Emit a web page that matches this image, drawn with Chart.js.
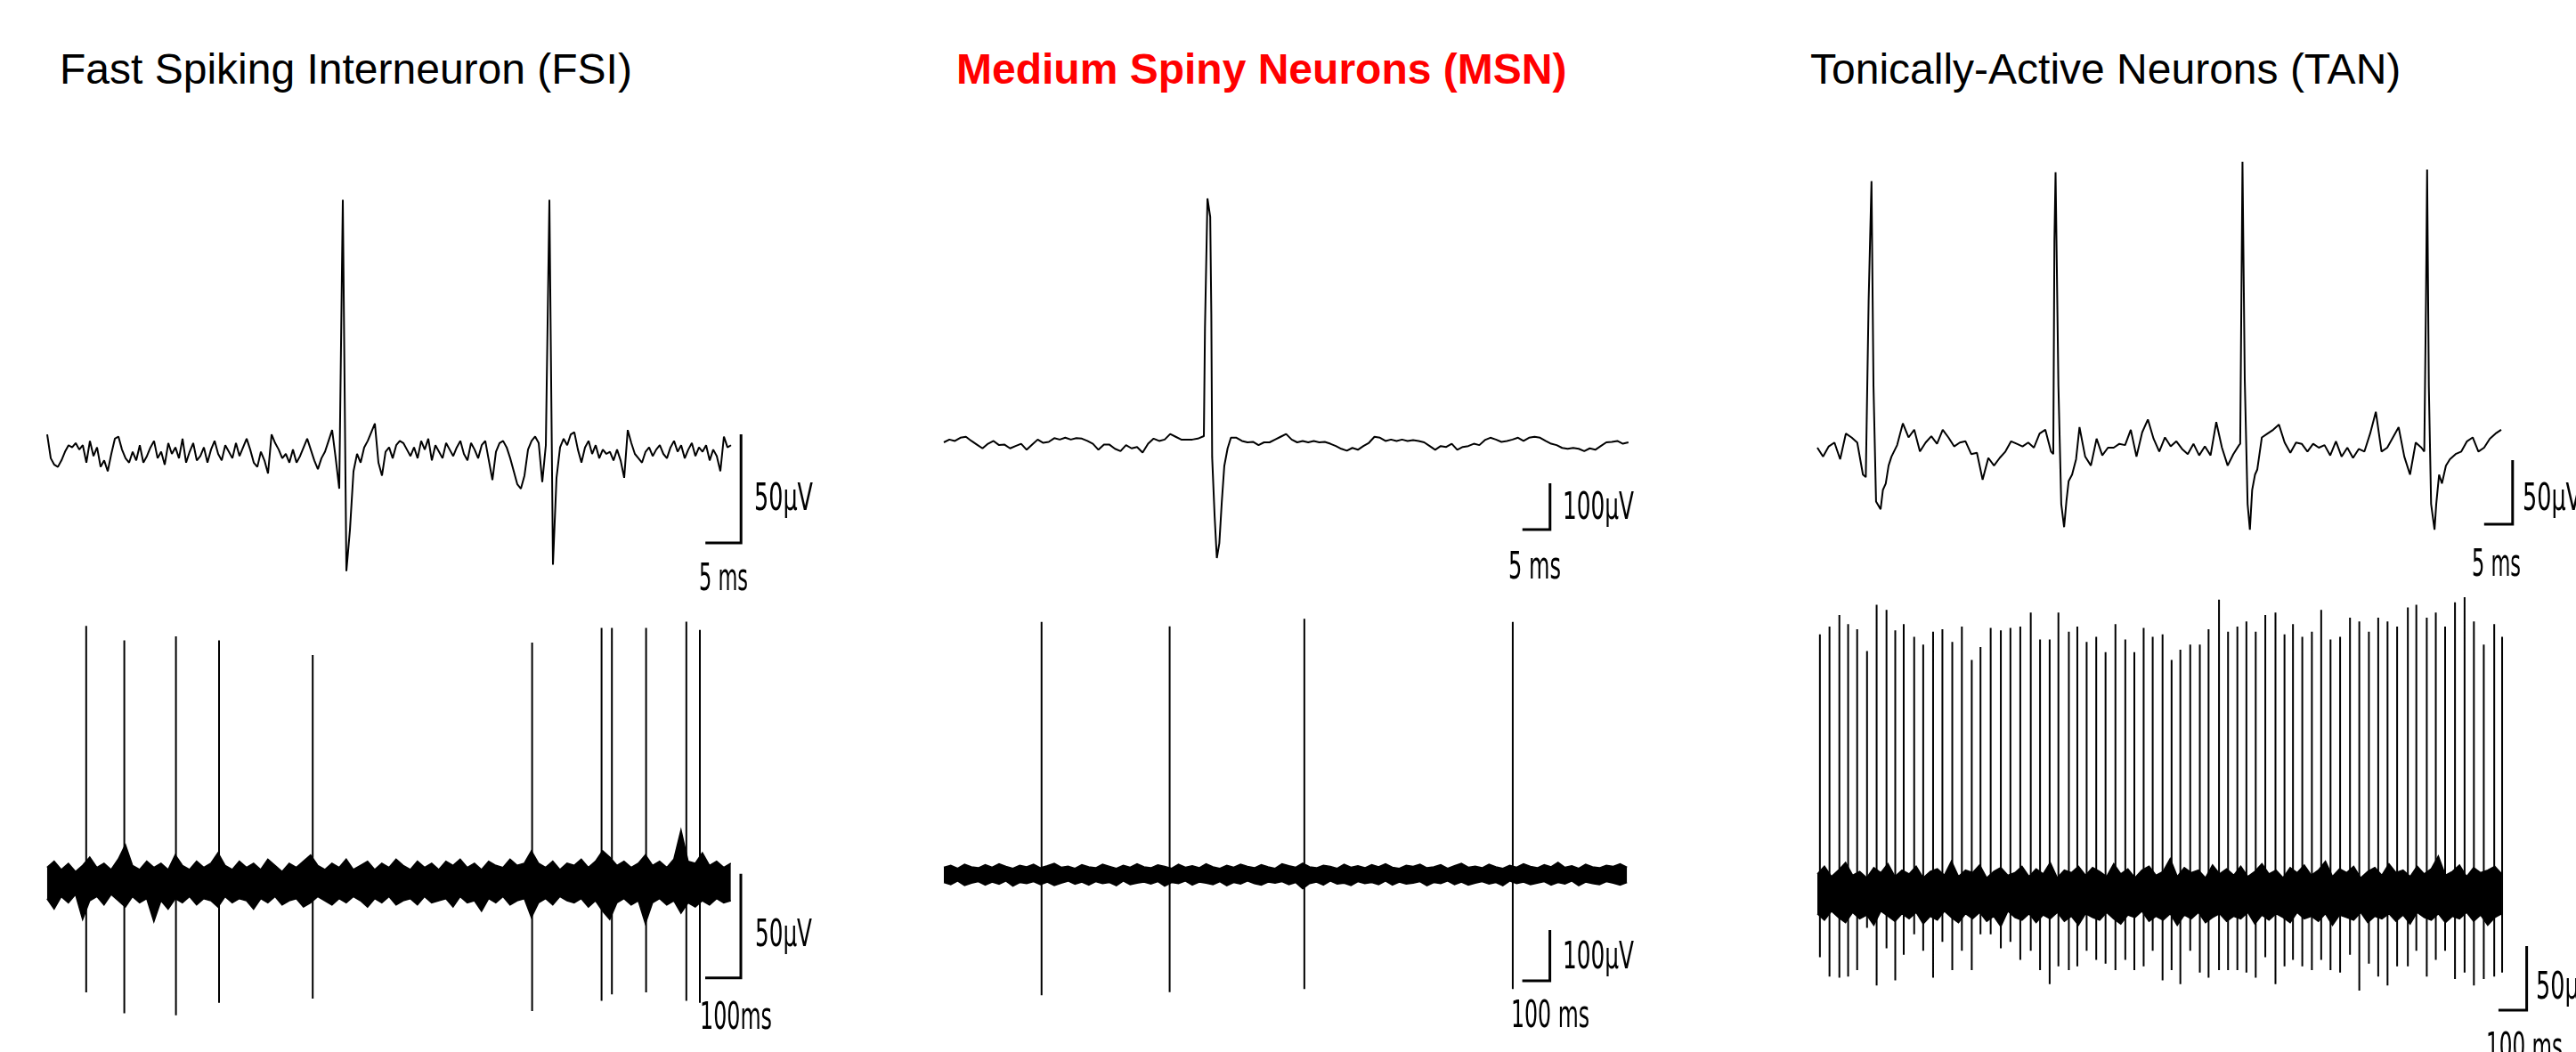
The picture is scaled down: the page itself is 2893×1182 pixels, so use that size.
<!DOCTYPE html>
<html>
<head>
<meta charset="utf-8">
<title>Striatal neuron recordings</title>
<script src="https://cdn.jsdelivr.net/npm/chart.js@4.4.1/dist/chart.umd.min.js"></script>
<style>
  html, body { margin: 0; padding: 0; background: #fff; }
  body { width: 2893px; height: 1182px; position: relative; overflow: hidden; }
  canvas { position: absolute; }
  .title {
    position: absolute; top: 54px;
    font-family: 'Liberation Sans', Arial, sans-serif;
    font-size: 48px; line-height: 48px; white-space: nowrap; color: #000;
  }
  .title.msn { color: #ff0000; font-weight: bold; }
  .bar-label {
    position: absolute;
    font-family: 'Liberation Sans Narrow', 'DejaVu Sans Condensed', 'Liberation Sans', sans-serif;
    font-size: 42px; line-height: 42px; white-space: nowrap; color: #000;
    transform-origin: 0 50%;
  }
</style>
</head>
<body>
<div class="title" style="left:67px">Fast Spiking Interneuron (FSI)</div>
<div class="title msn" style="left:1074px">Medium Spiny Neurons (MSN)</div>
<div class="title" style="left:2033px">Tonically-Active Neurons (TAN)</div>

<canvas id="fsiTop"></canvas>
<canvas id="fsiBot"></canvas>
<canvas id="msnTop"></canvas>
<canvas id="msnBot"></canvas>
<canvas id="tanTop"></canvas>
<canvas id="tanBot"></canvas>

<script>
/* ================================================
   Data – times in ms, voltages in µV
================================================ */

// ---- FSI, single spikes (0.5 ms per sample) ----
const fsiTopDt = 0.5;
const fsiTopTrace = [
  9, -2, -5, -6, -3, 1, 4, 3, 5, 2,
  4, -4, 6, -1, 3, -6, -3, -8, 0, 7,
  8, 2, -2, -4, 1, -3, 4, -4, -1, 3,
  6, -2, 1, -5, 5, 0, 3, -2, 7, -4,
  1, 5, -3, -1, 3, -4, 2, 6, 0, -3,
  4, 1, -2, 5, -1, 3, 7, 2, -4, -6,
  1, -3, -9, 9, 5, 2, -2, 0, -4, 2,
  -4, -1, 3, 7, 2, -3, -7, -2, 1, 6,
  11, -2, -16, 117, -54, -35, -8, 0, -4, 3,
  6, 10, 14, -4, -10, 1, 3, -2, 4, 6,
  5, 2, -1, 3, -2, 6, 2, 7, -3, 4,
  1, -2, 5, 2, -1, 3, 6, 0, -3, 5,
  2, -2, 4, 6, -3, -12, 1, 5, 6, 3,
  -2, -8, -14, -16, -10, 2, 6, 8, 5, -13,
  4, 117, -51, -11, 3, 7, 4, 9, 10, 2,
  -4, 3, 6, 0, 4, -2, 2, 0, 1, -3,
  2, -3, -11, 11, 5, 0, -2, -4, 1, 3,
  -1, 2, 4, 0, -2, 3, 6, 1, 4, -2,
  2, 5, -1, 3, 1, 4, -3, 2, -1, -8,
  8, 3, 4
];

// ---- FSI, spike train (noise band edges every 20 ms) ----
const fsiBotDt = 20;
const fsiBotUpper = [
  7, 10, 6, 9, 5, 8, 12, 7, 9, 6,
  11, 18, 8, 6, 10, 7, 9, 6, 13, 8,
  6, 10, 7, 9, 14, 8, 6, 10, 7, 9,
  6, 11, 8, 5, 9, 7, 10, 13, 8, 6,
  9, 7, 11, 6, 8, 10, 6, 9, 7, 11,
  8, 6, 10, 7, 9, 6, 10, 8, 11, 7,
  9, 6, 10, 8, 7, 11, 8, 9, 15, 9,
  7, 10, 6, 9, 8, 11, 7, 10, 15, 12,
  8, 10, 7, 9, 13, 8, 10, 7, 11, 25,
  10, 9, 14, 8, 10, 7, 9
];
const fsiBotLower = [
  -8, -13, -7, -10, -6, -18, -9, -7, -11, -6,
  -9, -12, -7, -10, -8, -19, -9, -13, -8, -10,
  -7, -11, -8, -9, -12, -7, -10, -8, -9, -13,
  -8, -10, -7, -11, -9, -8, -12, -10, -7, -9,
  -11, -8, -10, -7, -9, -12, -8, -10, -7, -11,
  -9, -8, -11, -7, -10, -9, -8, -12, -7, -10,
  -9, -14, -8, -10, -7, -11, -9, -8, -17, -10,
  -8, -11, -7, -9, -10, -8, -12, -9, -14, -18,
  -10, -8, -11, -9, -20, -10, -8, -11, -9, -15,
  -10, -12, -9, -11, -8, -10, -9
];
const fsiSpikeTimes    = [110, 217, 362, 483, 746, 1362, 1557, 1586, 1682, 1795, 1833];
const fsiSpikePeaks    = [123, 116, 118, 116, 109, 115, 122, 122, 122, 125, 121];
const fsiSpikeTroughs  = [-53, -63, -64, -58, -56, -62, -57, -54, -53, -57, -58];

// ---- MSN, single spike (1 ms per sample, null = spike window) ----
const msnTopDt = 1;
const msnTopTrace = [
  0, 6, 3, 10, 12, 3, -5, -13, -3, 3,
  -6, -5, -13, -8, -3, -16, -5, 6, -1, 1,
  9, 6, 10, 6, 9, 8, 3, -3, -16, -5,
  -5, -14, -19, -6, -13, -10, -22, -3, 8, 3,
  6, 18, 12, 6, 6, 6, 8, 13, null, null,
  null, null, 10, 10, 3, 0, 1, -6, 0, 0,
  6, 12, 18, 6, 0, 3, 0, 3, 0, 1,
  -3, -8, -14, -18, -12, -16, -8, -1, 12, 10,
  3, 6, 3, 6, 3, 5, 3, 0, -8, -16,
  -8, -10, -3, -16, -10, -8, -3, -6, 5, 10,
  6, 1, 3, 6, 10, 3, 10, 12, 10, 3,
  -3, -6, -12, -14, -12, -14, -19, -13, -16, -8,
  0, 1, 3, -3, 0
];
const msnTopSpike = [
  [47.1, 13], [47.3, 247], [47.75, 527], [48.25, 487], [48.45, 276], [48.6, -32],
  [49.05, -160], [49.45, -250], [49.9, -218], [50.35, -128], [50.8, -51], [51.4, -13]
];

// ---- MSN, spike train (noise band edges every 25 ms) ----
const msnBotDt = 25;
const msnBotUpper = [
  14, 18, 12, 20, 15, 13, 19, 14, 21, 16, 12, 18, 15, 20, 13, 17, 22, 14, 16, 12,
  19, 15, 13, 20, 16, 12, 18, 14, 21, 15, 13, 19, 16, 12, 20, 14, 17, 13, 21, 15,
  12, 18, 14, 20, 16, 13, 19, 15, 12, 21, 17, 14, 22, 15, 13, 18, 16, 12, 20, 14,
  17, 13, 19, 15, 21, 14, 12, 18, 16, 20, 13, 15, 19, 12, 17, 22, 14, 16, 13, 20,
  15, 12, 18, 14, 21, 16, 13, 19, 15, 24, 14, 17, 12, 20, 15, 13, 18, 16, 21, 14
];
const msnBotLower = [
  -16, -20, -13, -22, -17, -14, -21, -15, -19, -13, -23, -16, -18, -14, -20, -15, -22, -17, -13, -19,
  -15, -21, -14, -18, -16, -22, -13, -20, -17, -15, -19, -14, -23, -16, -18, -13, -21, -15, -17, -20,
  -14, -22, -16, -19, -13, -18, -21, -15, -17, -14, -20, -16, -28, -18, -15, -21, -13, -19, -17, -22,
  -14, -18, -16, -20, -13, -21, -15, -19, -17, -14, -22, -16, -18, -13, -20, -15, -21, -17, -14, -19,
  -16, -22, -13, -18, -15, -20, -17, -14, -21, -16, -19, -13, -22, -15, -18, -20, -14, -17, -21, -16
];
const msnSpikeTimes   = [354, 818, 1306, 2061];
const msnSpikePeaks   = [498, 489, 504, 498];
const msnSpikeTroughs = [-238, -232, -226, -226];

// ---- TAN, four spikes (1 ms per sample, null = spike window) ----
const tanTopDt = 1;
const tanTopTrace = [
  0, -7, 1, 4, -9, 11, 8, 4, -21, null,
  null, null, null, -7, 2, 19, 8, 14, -3, 4,
  9, 3, 14, 8, 1, 4, 5, -5, -4, -25,
  -8, -14, -8, -3, 5, 3, 1, 4, 0, 11,
  14, -3, null, null, null, null, 16, -7, -14, 7,
  -6, 0, 0, 3, 2, 14, -7, 12, 22, 7,
  -3, 8, 1, 5, -1, -5, 3, -6, 1, -6,
  20, 0, -14, -5, 2, null, null, null, 8, 11,
  14, 18, 4, -4, 4, 3, -3, 3, 0, 2,
  -6, 5, -7, 0, -8, -1, -3, 11, 28, -3,
  0, 8, 16, -7, -21, 4, 0, null, null, null,
  null, -9, -5, -3, 5, 8, -3, 0, 7, 11,
  14
];
const tanTopSpike1 = [[8.5, -23], [9.0, 115], [9.5, 208], [9.85, 48], [10.3, -42], [11.1, -48], [11.5, -33], [12.0, -28], [12.5, -14]];
const tanTopSpike2 = [[41.4, -5], [41.6, 162], [41.8, 215], [42.3, 48], [42.8, -44], [43.3, -62], [43.7, -42], [44.1, -26], [44.7, -21], [45.4, -9]];
const tanTopSpike3 = [[74.2, 3], [74.4, 111], [74.6, 223], [75.0, 53], [75.5, -44], [75.9, -64], [76.3, -33], [76.8, -21], [77.2, -17]];
const tanTopSpike4 = [[106.5, -3], [106.8, 115], [107.0, 217], [107.3, 48], [107.7, -44], [108.3, -64], [108.6, -44], [109.1, -21], [109.6, -28], [110.3, -14]];

// ---- TAN, spike train (noise band edges every 25 ms) ----
const tanBotDt = 25;
const tanBotUpper = [
  16, 22, 14, 19, 25, 15, 18, 13, 21, 17, 24, 14, 19, 16, 22, 13, 18, 20, 15, 26,
  14, 19, 17, 23, 13, 18, 21, 15, 17, 22, 14, 20, 16, 25, 13, 19, 17, 22, 15, 21,
  18, 14, 24, 16, 20, 13, 19, 22, 15, 18, 28, 14, 21, 17, 19, 13, 23, 16, 20, 15,
  22, 14, 18, 24, 16, 19, 13, 21, 17, 23, 15, 19, 26, 14, 20, 17, 22, 13, 18, 21,
  15, 24, 17, 19, 14, 22, 16, 20, 30, 15, 18, 23, 14, 21, 17, 19, 22, 16
];
const tanBotLower = [
  -15, -20, -13, -18, -22, -14, -19, -16, -24, -13, -17, -21, -15, -19, -14, -23, -17, -20, -13, -18,
  -22, -15, -19, -14, -21, -17, -25, -13, -18, -20, -15, -22, -16, -19, -14, -21, -17, -24, -15, -18,
  -20, -14, -19, -23, -16, -18, -13, -21, -17, -20, -15, -24, -16, -19, -14, -22, -18, -15, -21, -17,
  -19, -14, -23, -16, -20, -15, -18, -22, -14, -19, -17, -21, -15, -24, -16, -18, -20, -14, -22, -17,
  -19, -15, -21, -16, -23, -14, -18, -20, -15, -22, -17, -19, -14, -21, -16, -24, -18, -15
];
const tanSpikeTimes = [
  9, 43, 78, 109, 141, 176, 210, 245, 276, 306,
  343, 375, 410, 443, 478, 512, 547, 578, 614, 650,
  684, 719, 756, 789, 823, 854, 891, 921, 954, 988,
  1021, 1056, 1091, 1123, 1156, 1188, 1223, 1255, 1286, 1321,
  1355, 1386, 1423, 1455, 1488, 1520, 1553, 1587, 1623, 1655,
  1685, 1718, 1752, 1785, 1818, 1852, 1887, 1920, 1954, 1987,
  2020, 2054, 2092, 2122, 2159, 2191, 2224, 2259, 2293, 2326,
  2361, 2398, 2426
];
const tanSpikePeaks = [
  203, 209, 218, 211, 207, 190, 226, 222, 206, 211,
  201, 195, 205, 207, 197, 209, 183, 193, 208, 206,
  208, 209, 220, 199, 199, 220, 205, 209, 197, 201,
  189, 211, 199, 189, 208, 201, 203, 183, 191, 195,
  195, 207, 230, 205, 209, 213, 205, 218, 220, 203,
  211, 201, 205, 222, 199, 201, 216, 213, 205, 216,
  213, 209, 224, 226, 216, 220, 209, 228, 232, 213,
  195, 211, 201
];
const tanSpikeTroughs = [
  -49, -64, -65, -64, -59, -26, -71, -42, -67, -47,
  -31, -44, -65, -37, -59, -44, -59, -31, -31, -42,
  -37, -51, -44, -59, -70, -56, -59, -56, -44, -51,
  -54, -59, -51, -59, -56, -44, -67, -59, -70, -44,
  -61, -65, -59, -59, -59, -61, -65, -49, -70, -56,
  -51, -56, -59, -51, -59, -61, -47, -75, -54, -64,
  -71, -56, -56, -44, -64, -51, -44, -66, -61, -71,
  -66, -64, -61
];

/* ================================================
   Panel layout (page pixels) and scale bars
================================================ */
const panels = [
  { id: 'fsiTop', left: 40, top: 180, width: 930, height: 500, originX: 53, originY: 510, pxPerX: 8, pxPerY: 2.44,
    bar: { t: 97.4, v: -41, dt: 5, dv: 50 },
    vLabel: { text: '50µV', dx: 15, dy: -52, w: 66 }, hLabel: { text: '5 ms', dx: -20, dy: 23, w: 55 } },
  { id: 'fsiBot', left: 40, top: 680, width: 930, height: 502, originX: 52.8, originY: 991, pxPerX: 0.4, pxPerY: 2.34,
    bar: { t: 1948, v: -46, dt: 100, dv: 50 },
    vLabel: { text: '50µV', dx: 16, dy: -50, w: 64 }, hLabel: { text: '100ms', dx: -6, dy: 28, w: 81 } },
  { id: 'msnTop', left: 1040, top: 180, width: 900, height: 500, originX: 1060, originY: 497, pxPerX: 6.2, pxPerY: 0.52,
    bar: { t: 109.8, v: -188.5, dt: 5, dv: 100 },
    vLabel: { text: '100µV', dx: 14, dy: -27, w: 80 }, hLabel: { text: '5 ms', dx: -17, dy: 25, w: 59 } },
  { id: 'msnBot', left: 1040, top: 680, width: 900, height: 502, originX: 1060, originY: 982.5, pxPerX: 0.31, pxPerY: 0.57,
    bar: { t: 2195.5, v: -209.6, dt: 100, dv: 100 },
    vLabel: { text: '100µV', dx: 14, dy: -28, w: 80 }, hLabel: { text: '100 ms', dx: 0, dy: 23, w: 88 } },
  { id: 'tanTop', left: 2020, top: 150, width: 873, height: 530, originX: 2041, originY: 503, pxPerX: 6.4, pxPerY: 1.44,
    bar: { t: 122, v: -59.7, dt: 5, dv: 50 },
    vLabel: { text: '50µV', dx: 11, dy: -30, w: 66 }, hLabel: { text: '5 ms', dx: -18.5, dy: 29, w: 55 } },
  { id: 'tanBot', left: 2020, top: 640, width: 873, height: 542, originX: 2041, originY: 1005, pxPerX: 0.317, pxPerY: 1.44,
    bar: { t: 2513, v: -90.3, dt: 100, dv: 50 },
    vLabel: { text: '50µV', dx: 10, dy: -27.5, w: 66 }, hLabel: { text: '100 ms', dx: -3, dy: 25, w: 86 } }
];

/* ================================================
   Dataset builders
================================================ */
function traceDataset(values, dt, spikes) {
  const pts = [];
  values.forEach((v, i) => { if (v !== null) pts.push({ x: i * dt, y: v }); });
  spikes.forEach(s => s.forEach(([t, v]) => pts.push({ x: t, y: v })));
  pts.sort((a, b) => a.x - b.x);
  return { data: pts, borderColor: '#000', borderWidth: 2, borderJoinStyle: 'bevel' };
}

function bandDatasets(upper, lower, dt) {
  return [
    { data: upper.map((v, i) => ({ x: i * dt, y: v })), borderColor: '#000', borderWidth: 1.5, fill: false },
    { data: lower.map((v, i) => ({ x: i * dt, y: v })), borderColor: '#000', borderWidth: 1.5,
      fill: '-1', backgroundColor: '#000' }
  ];
}

function spikeDataset(times, peaks, troughs) {
  const pts = [];
  times.forEach((t, i) => {
    pts.push({ x: t, y: peaks[i] }, { x: t, y: troughs[i] }, { x: t, y: null });
  });
  return { data: pts, borderColor: '#000', borderWidth: 2, spanGaps: false };
}

function barDataset(b) {
  return {
    data: [{ x: b.t - b.dt, y: b.v }, { x: b.t, y: b.v }, { x: b.t, y: b.v + b.dv }],
    borderColor: '#000', borderWidth: 3, borderJoinStyle: 'miter', borderCapStyle: 'butt'
  };
}

/* ================================================
   Chart setup
================================================ */
function makeChart(p, datasets) {
  const cv = document.getElementById(p.id);
  cv.width = p.width;
  cv.height = p.height;
  cv.style.left = p.left + 'px';
  cv.style.top = p.top + 'px';

  const xMin = (p.left - p.originX) / p.pxPerX;
  const yMax = (p.originY - p.top) / p.pxPerY;

  return new Chart(cv.getContext('2d'), {
    type: 'line',
    data: { datasets: datasets.concat([barDataset(p.bar)]) },
    options: {
      responsive: false,
      animation: false,
      devicePixelRatio: 1,
      events: [],
      layout: { padding: 0 },
      plugins: { legend: { display: false }, tooltip: { enabled: false } },
      elements: { point: { radius: 0 }, line: { tension: 0 } },
      scales: {
        x: { type: 'linear', display: false, min: xMin, max: xMin + p.width / p.pxPerX },
        y: { type: 'linear', display: false, min: yMax - p.height / p.pxPerY, max: yMax }
      }
    }
  });
}

function addLabel(text, left, top, width) {
  const el = document.createElement('div');
  el.className = 'bar-label';
  el.textContent = text;
  el.style.left = left + 'px';
  el.style.top = top + 'px';
  document.body.appendChild(el);
  const natural = el.getBoundingClientRect().width;
  if (natural > 0) el.style.transform = `scaleX(${width / natural})`;
}

function placeBarLabels(chart, p) {
  const cx = p.left + chart.scales.x.getPixelForValue(p.bar.t);
  const cy = p.top + chart.scales.y.getPixelForValue(p.bar.v);
  addLabel(p.vLabel.text, cx + p.vLabel.dx, cy + p.vLabel.dy - 20.5, p.vLabel.w);
  addLabel(p.hLabel.text, cx + p.hLabel.dx - p.hLabel.w / 2, cy + p.hLabel.dy - 5.5, p.hLabel.w);
}

const panelData = {
  fsiTop: [traceDataset(fsiTopTrace, fsiTopDt, [])],
  fsiBot: bandDatasets(fsiBotUpper, fsiBotLower, fsiBotDt).concat([spikeDataset(fsiSpikeTimes, fsiSpikePeaks, fsiSpikeTroughs)]),
  msnTop: [traceDataset(msnTopTrace, msnTopDt, [msnTopSpike])],
  msnBot: bandDatasets(msnBotUpper, msnBotLower, msnBotDt).concat([spikeDataset(msnSpikeTimes, msnSpikePeaks, msnSpikeTroughs)]),
  tanTop: [traceDataset(tanTopTrace, tanTopDt, [tanTopSpike1, tanTopSpike2, tanTopSpike3, tanTopSpike4])],
  tanBot: bandDatasets(tanBotUpper, tanBotLower, tanBotDt).concat([spikeDataset(tanSpikeTimes, tanSpikePeaks, tanSpikeTroughs)])
};

panels.forEach(p => {
  const chart = makeChart(p, panelData[p.id]);
  placeBarLabels(chart, p);
});
</script>
</body>
</html>
